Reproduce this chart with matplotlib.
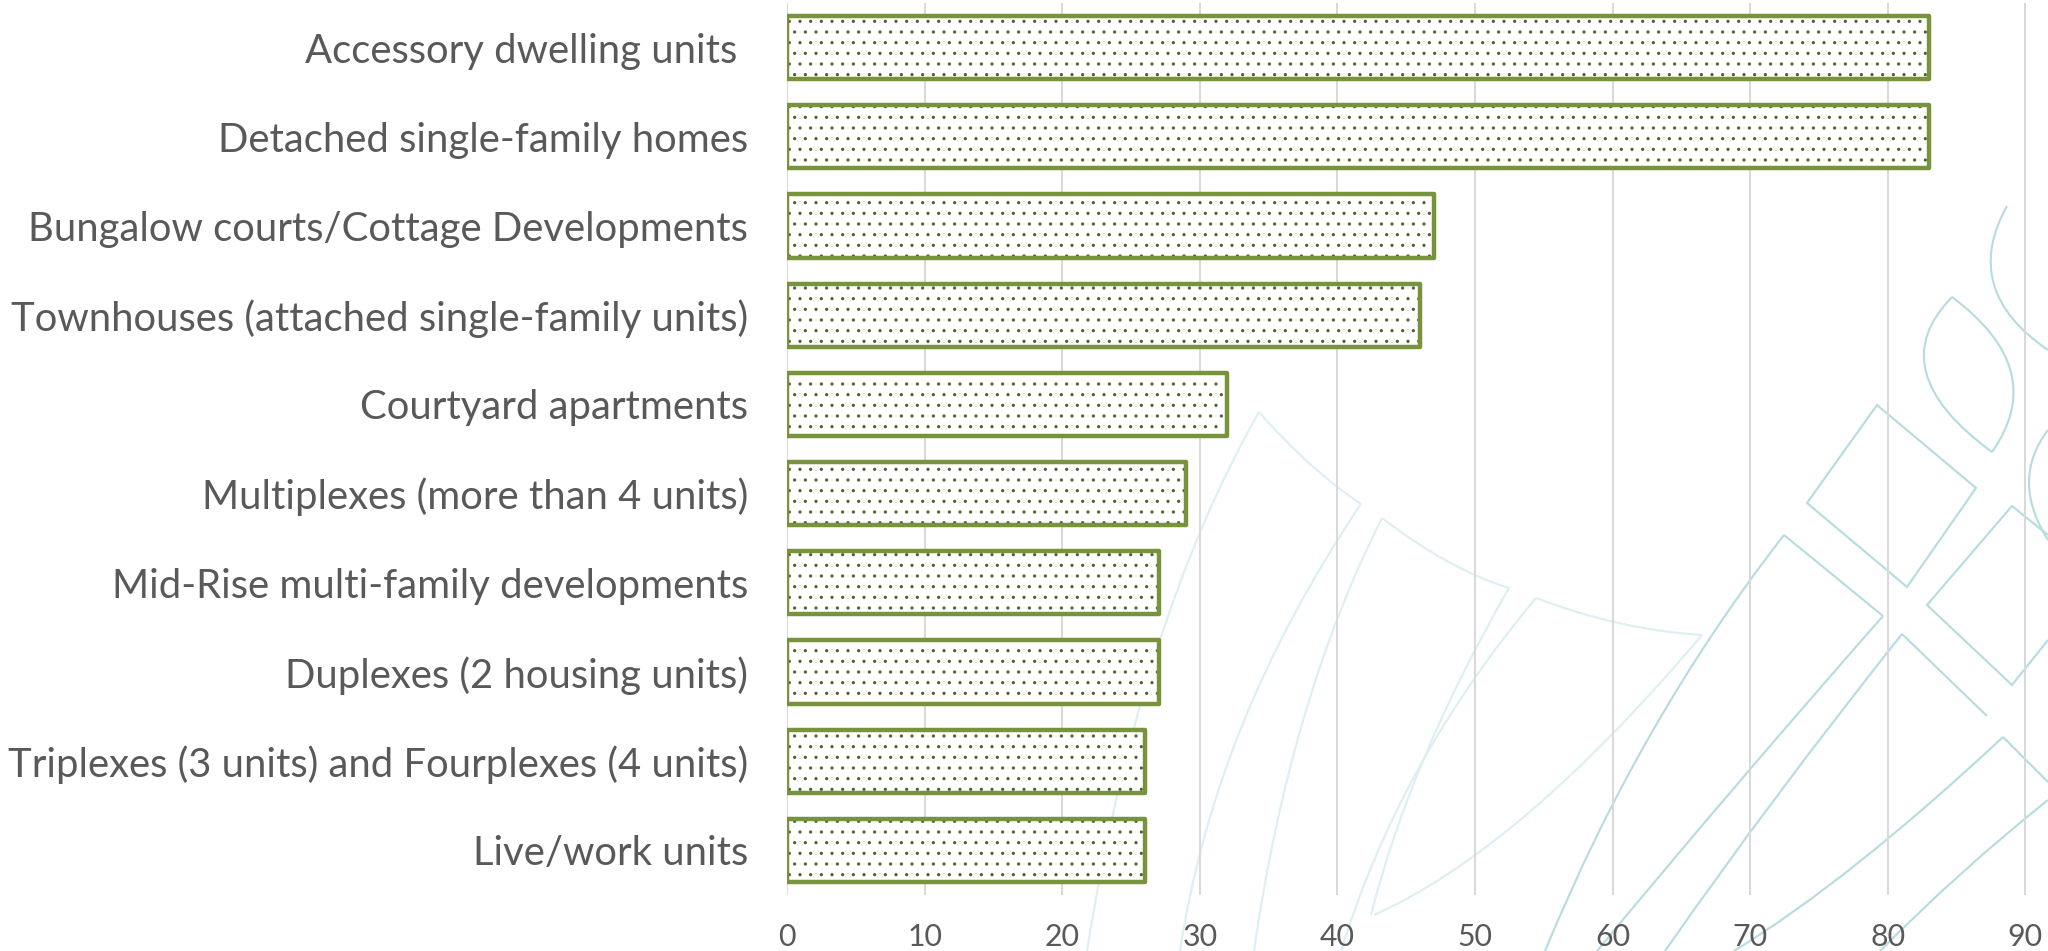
import matplotlib.pyplot as plt
from matplotlib.path import Path
from matplotlib.patches import PathPatch

# housing types, top to bottom as in the chart
categories = [
    "Accessory dwelling units ",
    "Detached single-family homes",
    "Bungalow courts/Cottage Developments",
    "Townhouses (attached single-family units)",
    "Courtyard apartments",
    "Multiplexes (more than 4 units)",
    "Mid-Rise multi-family developments",
    "Duplexes (2 housing units)",
    "Triplexes (3 units) and Fourplexes (4 units)",
    "Live/work units",
]
values = [83, 83, 47, 46, 32, 29, 27, 27, 26, 26]
xticks = [0, 10, 20, 30, 40, 50, 60, 70, 80, 90]

DPI = 128
TEXT = "#595959"
EDGE = "#77933C"
DOTS = "#4F6228"
GRID = "#D9D9D9"
WM_FAINT = "#DDEFF1"
WM_STRONG = "#B7DCE0"

plt.rcParams["font.family"] = ["Lato", "DejaVu Sans"]
plt.rcParams["hatch.linewidth"] = 0.6

fig = plt.figure(figsize=(2048 / DPI, 951 / DPI), dpi=DPI)

# background logo watermark (decoration only), pixel coords from top-left
wm = fig.add_axes([0, 0, 1, 1], zorder=0)
wm.set_xlim(0, 2048)
wm.set_ylim(951, 0)
wm.axis("off")

def curve(p0, c, p1, color, lw=1.2):
    path = Path([p0, c, p1], [Path.MOVETO, Path.CURVE3, Path.CURVE3])
    wm.add_patch(PathPatch(path, fill=False, edgecolor=color, lw=lw))

def poly(pts, color, lw=1.2, closed=False):
    codes = [Path.MOVETO] + [Path.LINETO] * (len(pts) - 1)
    if closed:
        pts = pts + [pts[0]]
        codes = codes + [Path.CLOSEPOLY]
    wm.add_patch(PathPatch(Path(pts, codes), fill=False, edgecolor=color, lw=lw))

# faint pointed arches
curve((1087, 951), (1140, 620), (1259, 412), WM_FAINT)
curve((1259, 412), (1310, 470), (1361, 504), WM_FAINT)
curve((1361, 504), (1215, 720), (1180, 951), WM_FAINT)
curve((1382, 518), (1290, 700), (1254, 951), WM_FAINT)
curve((1382, 518), (1450, 570), (1509, 588), WM_FAINT)
curve((1509, 588), (1410, 760), (1371, 915), WM_FAINT)
curve((1536, 598), (1400, 760), (1341, 951), WM_FAINT)
curve((1536, 598), (1620, 630), (1702, 635), WM_FAINT)
curve((1702, 635), (1520, 850), (1374, 915), WM_FAINT)

# stronger lattice on the right
curve((1784, 535), (1640, 720), (1545, 951), WM_STRONG)
poly([(1784, 535), (1883, 616)], WM_STRONG)
curve((1883, 616), (1730, 790), (1597, 951), WM_STRONG)
poly([(1902, 634), (1987, 716)], WM_STRONG)
curve((1902, 634), (1770, 800), (1665, 951), WM_STRONG)
poly([(2003, 737), (2048, 782)], WM_STRONG)
curve((2003, 737), (1850, 880), (1734, 951), WM_STRONG)
poly([(1877, 405), (1976, 488), (1907, 587), (1807, 503)], WM_STRONG, closed=True)
poly([(2048, 535), (2012, 506), (1927, 605), (2012, 685), (2048, 640)], WM_STRONG)
curve((2048, 800), (1960, 870), (1880, 951), WM_STRONG)
# leaves
curve((1952, 297), (1880, 370), (1992, 452), WM_STRONG)
curve((1952, 297), (2050, 370), (1992, 452), WM_STRONG)
curve((2007, 206), (1960, 290), (2048, 350), WM_STRONG)
curve((2048, 430), (2010, 480), (2048, 540), WM_STRONG)

# main chart
ax = fig.add_axes([787 / 2048, 56 / 951, 1 - 787 / 2048, 892 / 951], zorder=1)
ax.set_facecolor("none")

pos = list(range(len(categories)))
# dotted fill
ax.barh(pos, values, height=0.71, color="white", edgecolor=DOTS,
        linewidth=0, hatch="..", zorder=2)
# green outline
ax.barh(pos, values, height=0.71, fill=False, edgecolor=EDGE,
        linewidth=2.5, joinstyle="round", zorder=3)

ax.set_ylim(len(categories) - 0.5, -0.5)
ax.set_xlim(0, 91.64)
ax.set_yticks(pos)
ax.set_yticklabels(categories)
ax.set_xticks(xticks)
ax.set_xticklabels([str(t) for t in xticks])

ax.tick_params(axis="y", length=0, pad=22, labelsize=22.5, labelcolor=TEXT)
ax.tick_params(axis="x", length=0, pad=16, labelsize=17, labelcolor=TEXT)

ax.grid(axis="x", color=GRID, linewidth=1.1, zorder=0)
ax.set_axisbelow(True)
for s in ax.spines.values():
    s.set_visible(False)

fig.savefig("out.png", dpi=DPI)
